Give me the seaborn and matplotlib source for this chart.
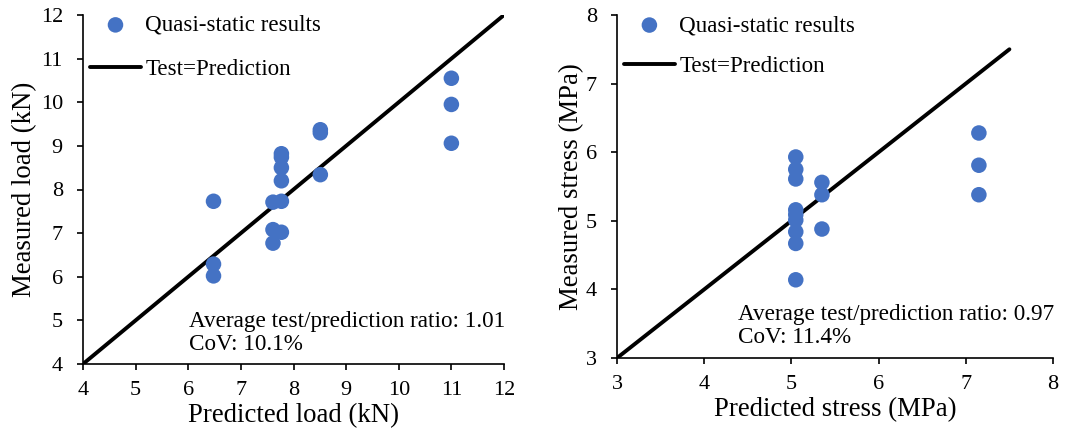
import matplotlib
matplotlib.use("Agg")
import matplotlib.pyplot as plt
import seaborn as sns
import pandas as pd

# Left panel: load
load_pred = [6.48, 6.48, 6.48, 7.61, 7.61, 7.61, 7.77, 7.77, 7.77, 7.77, 7.77, 7.77,
             8.51, 8.51, 8.51, 11.0, 11.0, 11.0]
load_meas = [7.73, 6.29, 6.02, 7.71, 7.08, 6.77, 8.82, 8.74, 8.50, 8.20, 7.73, 7.02,
             9.37, 9.30, 8.34, 10.55, 9.95, 9.06]
load_line = [4, 12]

# Right panel: stress
stress_pred = [5.05, 5.05, 5.05, 5.05, 5.05, 5.05, 5.05, 5.05, 5.05,
               5.35, 5.35, 5.35, 7.15, 7.15, 7.15]
stress_meas = [5.93, 5.75, 5.61, 5.16, 5.09, 5.01, 4.84, 4.67, 4.14,
               5.56, 5.38, 4.88, 6.28, 5.81, 5.38]
stress_line = [3, 7.5]

sns.set_theme(style="ticks")
plt.rcParams['font.family'] = ['Liberation Serif', 'DejaVu Serif']
plt.rcParams['text.color'] = 'black'
plt.rcParams['axes.labelcolor'] = 'black'
plt.rcParams['xtick.color'] = 'black'
plt.rcParams['ytick.color'] = 'black'
plt.rcParams['legend.labelcolor'] = 'black'

fig = plt.figure(figsize=(10.79, 4.34), dpi=100)
ax1 = fig.add_axes([83/1079, 1 - 364/434, (504-83)/1079, (364-15)/434])
ax2 = fig.add_axes([617/1079, 1 - 358/434, (1053-617)/1079, (358-15)/434])

blue = "#4472C4"

def panel(ax, xp, ym, line, xlim, ylim, xlabel, ylabel, ratio, cov, text_x, text_y,
          leg_y, ylabelpad):
    df = pd.DataFrame({"pred": xp, "meas": ym})
    sns.scatterplot(data=df, x="pred", y="meas", ax=ax, color=blue, s=125,
                    edgecolor="none", label="Quasi-static results", zorder=3)
    sns.lineplot(x=line, y=line, ax=ax, color="black", linewidth=2.8,
                 label="Test=Prediction", zorder=2)
    ax.set_xlim(*xlim)
    ax.set_ylim(*ylim)
    ax.set_xticks(range(xlim[0], xlim[1] + 1))
    ax.set_yticks(range(ylim[0], ylim[1] + 1))
    ax.set_xlabel(xlabel, fontsize=19.3, labelpad=2)
    ax.set_ylabel(ylabel, fontsize=19.3, labelpad=ylabelpad)
    ax.tick_params(labelsize=16, colors="black", length=4.5, width=1.2, direction="out")
    ax.tick_params(axis="x", pad=8)
    ax.tick_params(axis="y", pad=10)
    for sp in ["top", "right"]:
        ax.spines[sp].set_visible(False)
    for sp in ["left", "bottom"]:
        ax.spines[sp].set_color("black")
        ax.spines[sp].set_linewidth(1.2)
    ax.text(text_x, text_y, f"Average test/prediction ratio: {ratio}\nCoV: {cov}",
            transform=ax.transAxes, fontsize=16.7, ha="left", va="bottom",
            linespacing=1.12, color="black")
    ax.legend(loc="upper left", frameon=False, fontsize=16.6, handlelength=2.2,
              handletextpad=0.2, labelspacing=leg_y[1], borderaxespad=0.0,
              bbox_to_anchor=(-0.005, leg_y[0]))
    ax.grid(False)

panel(ax1, load_pred, load_meas, load_line, (4, 12), (4, 12),
      "Predicted load (kN)", "Measured load (kN)", "1.01", "10.1%", 0.252, 0.025,
      (1.027, 1.0), 2.5)
panel(ax2, stress_pred, stress_meas, stress_line, (3, 8), (3, 8),
      "Predicted stress (MPa)", "Measured stress (MPa)", "0.97", "11.4%", 0.278, 0.028,
      (1.027, 0.85), 1.0)

fig.savefig("out.png", dpi=100)
